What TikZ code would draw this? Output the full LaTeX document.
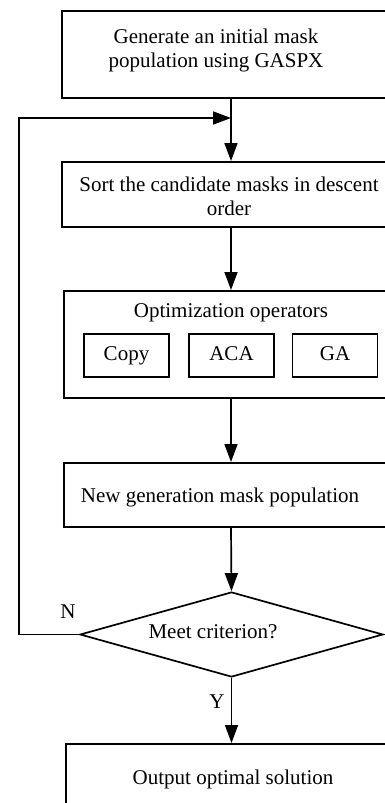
\documentclass[tikz,border=0pt]{standalone}
\usepackage{fontspec}
\setmainfont{Liberation Serif}
\usetikzlibrary{arrows.meta,shapes.geometric}
\begin{document}
\begin{tikzpicture}[x=1pt,y=-1pt,
  every node/.style={font=\fontsize{21}{24}\selectfont, inner sep=0pt},
  box/.style={draw, line width=1.7pt, rectangle, anchor=north west},
  sub/.style={draw, line width=1.7pt, rectangle, minimum width=85pt, minimum height=43pt, text height=14pt, text depth=4.5pt},
  dec/.style={draw, line width=1.7pt, diamond, aspect=3.56, minimum width=303pt, minimum height=85pt},
  arr/.style={line width=1.7pt, -{Triangle[length=18pt,width=13pt]}},
  lbl/.style={align=center}]
\useasboundingbox (0,0) rectangle (385,803);
\clip (0,0) rectangle (385,803);
% boxes
\node[box, minimum width=345pt, minimum height=87pt] (b1) at (61,10) {};
\node[box, minimum width=345pt, minimum height=65pt] (b2) at (61,161) {};
\node[box, minimum width=343pt, minimum height=107pt] (b3) at (63,290) {};
\node[box, minimum width=343pt, minimum height=64pt] (b4) at (63,462) {};
\node[dec] (d) at (231.5,634.5) {};
\node[box, minimum width=341pt, minimum height=90pt] (b5) at (65,743) {};
% texts
\node[lbl] (t1) at (216,50) {Generate an initial mask\\population using GASPX};
\node[lbl] (t2) at (229,196) {Sort the candidate masks in descent\\order};
\node (t3) at (231,313) {Optimization operators};
\node[sub] (s1) at (126.5,355.5) {Copy};
\node[sub] (s2) at (231.5,355.5) {ACA};
\node[sub] (s3) at (335,355.5) {GA};
\node (t4) at (220,497) {New generation mask population};
\node (t5) at (213,632) {Meet criterion?};
\node (t6) at (233,779) {Output optimal solution};
\node (n) at (68,612) {N};
\node (y) at (217,702) {Y};
% connectors
\coordinate (col) at (231,0);
\coordinate (join) at (231,118);
\coordinate (fb) at (19,0);
\draw[line width=1.7pt] (b1.south -| col) -- (join);
\draw[arr] (join) -- (b2.north -| col);
\draw[arr] (b2.south -| col) -- (b3.north -| col);
\draw[arr] (b3.south -| col) -- (b4.north -| col);
\draw[arr] (b4.south -| col) -- (d.north);
\draw[arr] (d.south) -- (b5.north -| d.south);
\draw[arr] (d.west) -- (d.west -| fb) |- (join);
\end{tikzpicture}
\end{document}
